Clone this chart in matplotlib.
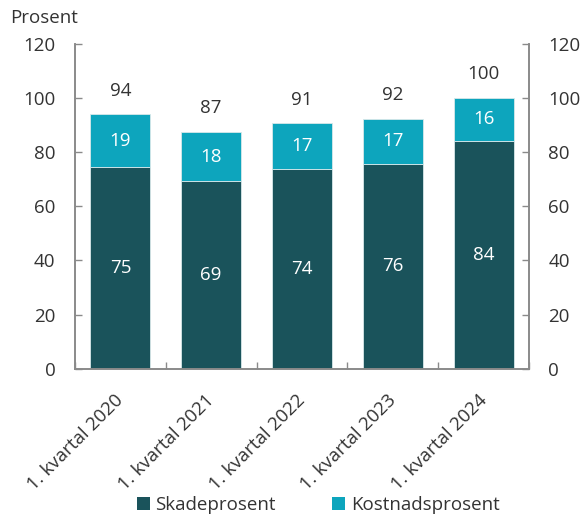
import matplotlib
matplotlib.use("Agg")
import matplotlib.pyplot as plt
import matplotlib.transforms as mtransforms
import numpy as np
from matplotlib.patches import Patch

plt.rcParams['font.family'] = ['Open Sans', 'DejaVu Sans']

categories = ["1. kvartal 2020", "1. kvartal 2021", "1. kvartal 2022",
              "1. kvartal 2023", "1. kvartal 2024"]
skadeprosent = [74.6, 69.2, 73.9, 75.6, 84.1]
kostnadsprosent = [19.3, 18.1, 16.7, 16.6, 16.0]
yticks = [0, 20, 40, 60, 80, 100, 120]

c_dark = "#1a535b"
c_light = "#0da5bd"
c_text = "#333333"
c_spine = "#8a8a8a"
fs = 13.5

fig = plt.figure(figsize=(5.84, 5.18), dpi=100)
ax = fig.add_axes([0.1284, 0.2882, 0.7774, 0.6274])

x = np.arange(len(categories))
w = 0.66
ax.bar(x, skadeprosent, width=w, color=c_dark, edgecolor="#d8e8ea", linewidth=0.6)
ax.bar(x, kostnadsprosent, width=w, bottom=skadeprosent, color=c_light,
       edgecolor="#d8e8ea", linewidth=0.6)

for xi, s, k in zip(x, skadeprosent, kostnadsprosent):
    ax.text(xi, s / 2, f"{round(s):d}", ha="center", va="center", color="white", fontsize=fs)
    ax.text(xi, s + k / 2, f"{round(k):d}", ha="center", va="center", color="white", fontsize=fs)
    ax.text(xi, s + k + 8.8, f"{round(s + k):d}", ha="center", va="center", color=c_text, fontsize=fs)

ax.set_xlim(-0.5, len(categories) - 0.5)
ax.set_ylim(0, 120)
ax.set_yticks(yticks)
ax.set_xticks(x)
ax.set_xticklabels(categories, rotation=45, ha="right", va="top", rotation_mode="anchor",
                   fontsize=fs, color=c_text)
ax.tick_params(axis="x", length=0, pad=15)
shift = mtransforms.ScaledTranslation(-6 / 100, -2 / 100, fig.dpi_scale_trans)
for lbl in ax.get_xticklabels():
    lbl.set_transform(lbl.get_transform() + shift)
ax.set_xticks(np.arange(len(categories) + 1) - 0.5, minor=True)
ax.tick_params(axis="x", which="minor", direction="in", length=5, color=c_spine, width=1)

ax.tick_params(axis="y", direction="in", length=5, color=c_spine, width=1,
               labelsize=fs, labelcolor=c_text, pad=14)
ax2 = ax.twinx()
ax2.set_ylim(0, 120)
ax2.set_yticks(yticks)
ax2.tick_params(axis="y", direction="in", length=5, color=c_spine, width=1,
                labelsize=fs, labelcolor=c_text, pad=14)

for a in (ax, ax2):
    a.spines["top"].set_visible(False)
    for side in ("left", "right", "bottom"):
        a.spines[side].set_color(c_spine)
        a.spines[side].set_linewidth(1.2)

fig.text(10 / 584, 1 - 18 / 518, "Prosent", ha="left", va="center", fontsize=fs, color=c_text)

handles = [Patch(facecolor=c_dark), Patch(facecolor=c_light)]
fig.legend(handles, ["Skadeprosent", "Kostnadsprosent"], loc="center",
           bbox_to_anchor=(0.545, 1 - 505 / 518), ncol=2, frameon=False,
           fontsize=fs, labelcolor=c_text, handlelength=0.7, handleheight=0.7,
           handletextpad=0.3, columnspacing=3.0)

fig.savefig("out.png", dpi=100)
